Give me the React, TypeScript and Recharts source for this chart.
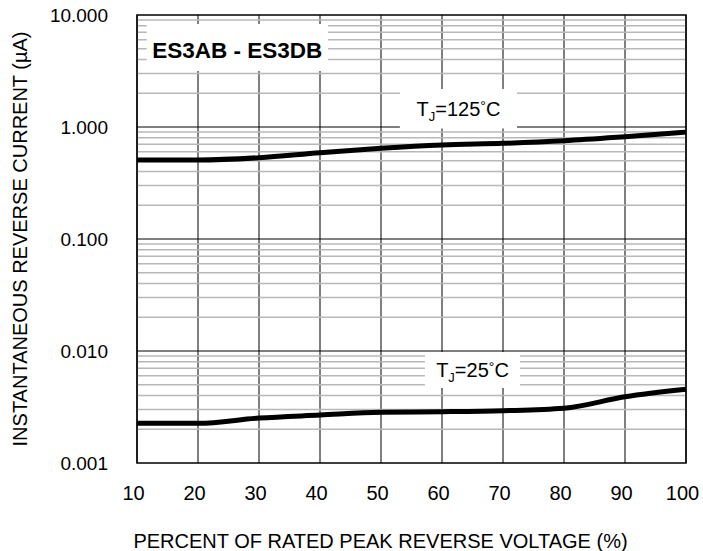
import React from "react";
import {
  LineChart,
  Line,
  XAxis,
  YAxis,
  CartesianGrid,
  ReferenceLine,
  ReferenceArea,
} from "recharts";

// percent of rated peak reverse voltage
const xPercent = [10, 20, 30, 40, 50, 60, 70, 80, 90, 100];
// instantaneous reverse current (uA)
const current125 = [0.508, 0.508, 0.532, 0.59, 0.645, 0.69, 0.715, 0.755, 0.82, 0.9];
const current25 = [0.00226, 0.00226, 0.00252, 0.00268, 0.00284, 0.00287, 0.00293, 0.00308, 0.0039, 0.00455];

const yTicks = [0.001, 0.01, 0.1, 1, 10];
const decadeLines = [0.01, 0.1, 1];
const minorMultipliers = [2, 3, 4, 5, 6, 7, 8, 9];
const minorDecades = [0.001, 0.01, 0.1, 1];

const FONT = "'Liberation Sans', Arial, sans-serif";

const data = xPercent.map((x, i) => ({ x, t125: current125[i], t25: current25[i] }));
const minorLines = minorDecades.flatMap((d) => minorMultipliers.map((m) => d * m));

// "T_J=xx°C" label with subscript J, centred in a white box
function TjLabel({ viewBox, temp }: any) {
  const cx = viewBox.x + viewBox.width / 2;
  const cy = viewBox.y + viewBox.height / 2;
  return (
    <text x={cx} y={cy + 7} textAnchor="middle" fontFamily={FONT} fontSize={20} fill="#000">
      T
      <tspan fontSize={13} dy={5}>J</tspan>
      <tspan dy={-5}>={temp}</tspan>
      <tspan fontSize={14} dy={-5}>°</tspan>
      <tspan dy={5}>C</tspan>
    </text>
  );
}

function TitleLabel({ viewBox }: any) {
  const cx = viewBox.x + viewBox.width / 2;
  const cy = viewBox.y + viewBox.height / 2;
  return (
    <text x={cx} y={cy + 10} textAnchor="middle" fontFamily={FONT} fontSize={22.5} fontWeight="bold" fill="#000">
      ES3AB - ES3DB
    </text>
  );
}

function YTitle({ viewBox }: any) {
  const cy = viewBox.y + viewBox.height / 2;
  const cx = 20;
  return (
    <text
      x={cx}
      y={cy}
      transform={`rotate(-90 ${cx} ${cy})`}
      textAnchor="middle"
      dominantBaseline="central"
      fontFamily={FONT}
      fontSize={20}
      fill="#000"
    >
      INSTANTANEOUS REVERSE CURRENT (µA)
    </text>
  );
}

function XTitle({ viewBox }: any) {
  const cx = viewBox.x + viewBox.width / 2 - 31;
  return (
    <text x={cx} y={548} textAnchor="middle" fontFamily={FONT} fontSize={20} fill="#000">
      PERCENT OF RATED PEAK REVERSE VOLTAGE (%)
    </text>
  );
}

export default function App() {
  return (
    <div style={{ position: "absolute", left: 0, top: 0, background: "#fff" }}>
      <LineChart
        width={703}
        height={551}
        data={data}
        margin={{ top: 15, right: 17, bottom: 0, left: 0 }}
      >
        <CartesianGrid horizontal={false} stroke="#000" strokeWidth={1} />
        <XAxis
          dataKey="x"
          type="number"
          domain={[10, 100]}
          ticks={xPercent}
          height={88}
          axisLine={false}
          tickLine={false}
          tickSize={0}
          tickMargin={23}
          tick={{ fill: "#000", fontSize: 20, fontFamily: FONT, dx: -3.5 }}
          label={{ content: XTitle }}
        />
        <YAxis
          type="number"
          scale="log"
          domain={[0.001, 10]}
          ticks={yTicks}
          allowDataOverflow
          width={137}
          axisLine={false}
          tickLine={false}
          tickSize={0}
          tickMargin={29}
          tickFormatter={(v: number) => v.toFixed(3)}
          tick={{ fill: "#000", fontSize: 19, fontFamily: FONT }}
          label={{ content: YTitle }}
        />
        {minorLines.map((v) => (
          <ReferenceLine key={`m${v}`} y={v} stroke="#b8b8b8" strokeWidth={1.5} zIndex={300} />
        ))}
        {decadeLines.map((v) => (
          <ReferenceLine key={`d${v}`} y={v} stroke="#000" strokeWidth={1} zIndex={310} />
        ))}
        <ReferenceArea x1={11.6} x2={41.3} y1={3.16} y2={8.3} fill="#fff" fillOpacity={1} stroke="none" zIndex={350} label={<TitleLabel />} />
        <ReferenceArea x1={53.1} x2={72.3} y1={0.97} y2={2.18} fill="#fff" fillOpacity={1} stroke="none" zIndex={350} label={<TjLabel temp="125" />} />
        <ReferenceArea x1={57.2} x2={72.8} y1={0.00467} y2={0.0098} fill="#fff" fillOpacity={1} stroke="none" zIndex={350} label={<TjLabel temp="25" />} />
        <Line type="monotone" dataKey="t125" stroke="#000" strokeWidth={5} dot={false} isAnimationActive={false} zIndex={400} />
        <Line type="monotone" dataKey="t25" stroke="#000" strokeWidth={5} dot={false} isAnimationActive={false} zIndex={400} />
        <ReferenceArea x1={10} x2={100} y1={0.001} y2={10} fill="none" stroke="#000" strokeWidth={1.5} zIndex={450} />
      </LineChart>
    </div>
  );
}
